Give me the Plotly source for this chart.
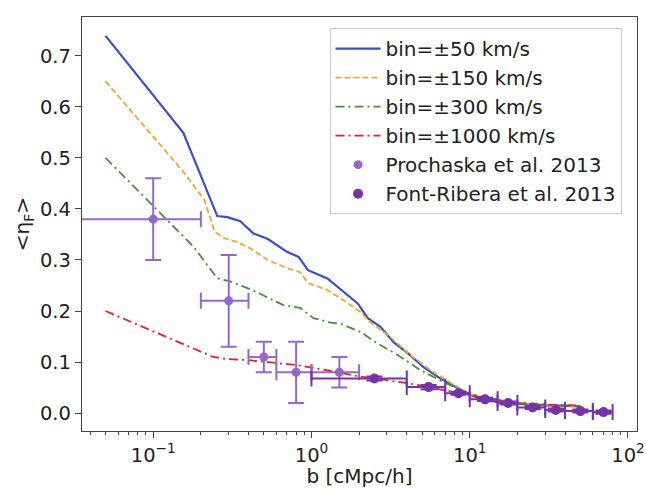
import plotly.graph_objects as go

# ---- data ----
b_50 = [0.05, 0.155, 0.254, 0.294, 0.355, 0.43, 0.53, 0.70, 0.83, 0.95, 1.26, 1.53, 1.96, 2.27, 2.73, 3.3, 4.04, 5.1, 6.5, 8.4, 10, 12.3, 15.6, 25, 50]
eta_50 = [0.739, 0.549, 0.386, 0.384, 0.376, 0.352, 0.341, 0.316, 0.306, 0.28, 0.264, 0.242, 0.215, 0.186, 0.169, 0.139, 0.118, 0.09, 0.068, 0.049, 0.036, 0.026, 0.021, 0.016, 0.013]

b_150 = [0.05, 0.155, 0.21, 0.245, 0.28, 0.34, 0.41, 0.53, 0.70, 0.85, 0.95, 1.26, 1.69, 2.04, 2.36, 3.15, 4.2, 5.9, 8.4, 10, 15, 20, 30, 50]
eta_150 = [0.65, 0.473, 0.418, 0.355, 0.343, 0.335, 0.323, 0.30, 0.284, 0.276, 0.255, 0.241, 0.216, 0.198, 0.178, 0.149, 0.114, 0.08, 0.051, 0.037, 0.025, 0.02, 0.016, 0.013]

b_300 = [0.05, 0.142, 0.18, 0.254, 0.307, 0.43, 0.66, 0.85, 1.03, 1.3, 1.53, 2.04, 2.6, 3.5, 4.9, 6.8, 9.8, 13, 20, 30, 50]
eta_300 = [0.50, 0.359, 0.326, 0.264, 0.258, 0.24, 0.212, 0.206, 0.186, 0.178, 0.175, 0.159, 0.137, 0.114, 0.084, 0.061, 0.039, 0.029, 0.02, 0.016, 0.014]

b_1000 = [0.05, 0.24, 0.29, 0.39, 0.53, 0.81, 1.3, 2, 4, 7, 10, 15, 20, 30, 50]
eta_1000 = [0.20, 0.11, 0.106, 0.104, 0.10, 0.094, 0.083, 0.072, 0.059, 0.045, 0.035, 0.025, 0.02, 0.017, 0.015]

pro_b = [0.1, 0.3, 0.5, 0.8, 1.5]
pro_b_minus = [0.1, 0.1, 0.1, 0.2, 0.5]
pro_b_plus = [0.1, 0.1, 0.1, 0.2, 0.5]
pro_eta = [0.38, 0.22, 0.11, 0.08, 0.08]
pro_eta_err = [0.08, 0.09, 0.03, 0.06, 0.03]

fr_b = [2.5, 5.5, 8.5, 12.5, 17.5, 25, 35, 50, 70]
fr_b_lo = [1, 4, 7, 10, 15, 20, 30, 40, 60]
fr_b_hi = [4, 7, 10, 15, 20, 30, 40, 60, 80]
fr_eta = [0.068, 0.051, 0.039, 0.027, 0.020, 0.011, 0.006, 0.004, 0.002]
fr_eta_err = [0.004, 0.004, 0.003, 0.003, 0.003, 0.003, 0.003, 0.003, 0.003]

labels = ["bin=±50 km/s", "bin=±150 km/s", "bin=±300 km/s", "bin=±1000 km/s",
          "Prochaska et al. 2013", "Font-Ribera et al. 2013"]

x_ticks = [0.1, 1, 10, 100]
x_ticktext = ["10<sup>−1</sup>", "10<sup>0</sup>", "10<sup>1</sup>", "10<sup>2</sup>"]
y_ticks = [0.0, 0.1, 0.2, 0.3, 0.4, 0.5, 0.6, 0.7]

C_BLUE = "#3a4fc4"
C_ORANGE = "#f2a630"
C_GREEN = "#4a8f35"
C_RED = "#e8202a"
C_PRO = "#9468c4"
C_FR = "#7434a8"

FS = 19.5

fig = go.Figure()
fig.add_trace(go.Scatter(x=b_50, y=eta_50, mode="lines", name=labels[0], legendgroup="a",
                         line=dict(color=C_BLUE, width=2.2)))
fig.add_trace(go.Scatter(x=b_150, y=eta_150, mode="lines", name=labels[1], legendgroup="b",
                         line=dict(color=C_ORANGE, width=1.8, dash="6px,3px")))
fig.add_trace(go.Scatter(x=b_300, y=eta_300, mode="lines", name=labels[2], legendgroup="c",
                         line=dict(color=C_GREEN, width=1.8, dash="9px,4px,2px,4px")))
fig.add_trace(go.Scatter(x=b_1000, y=eta_1000, mode="lines", name=labels[3], legendgroup="d",
                         line=dict(color=C_RED, width=1.8, dash="9px,4px,2px,4px")))

pro_minus_safe = [min(m, 0.9999 * b) for m, b in zip(pro_b_minus, pro_b)]
fig.add_trace(go.Scatter(x=pro_b, y=pro_eta, mode="markers", name=labels[4], legendgroup="e",
                         marker=dict(color=C_PRO, size=9),
                         error_y=dict(type="data", array=pro_eta_err, color=C_PRO, thickness=2, width=8),
                         error_x=dict(type="data", array=pro_b_plus, arrayminus=pro_minus_safe,
                                      color=C_PRO, thickness=2, width=8)))
fr_plus = [h - b for h, b in zip(fr_b_hi, fr_b)]
fr_minus = [b - l for l, b in zip(fr_b_lo, fr_b)]
fig.add_trace(go.Scatter(x=fr_b, y=fr_eta, mode="markers", name=labels[5], legendgroup="f",
                         marker=dict(color=C_FR, size=10),
                         error_y=dict(type="data", array=fr_eta_err, color=C_FR, thickness=2, width=8),
                         error_x=dict(type="data", array=fr_plus, arrayminus=fr_minus,
                                      color=C_FR, thickness=2, width=8)))

axis_common = dict(showline=True, linecolor="#444", linewidth=1.3, mirror=True,
                   ticks="outside", ticklen=6, tickwidth=1.2, tickcolor="#444",
                   showgrid=False, zeroline=False, automargin=False,
                   tickfont=dict(family="DejaVu Sans", size=FS, color="#222"))

fig.update_layout(
    width=646, height=488,
    margin=dict(l=82, r=9, t=17, b=57),
    paper_bgcolor="white", plot_bgcolor="white",
    font=dict(family="DejaVu Sans", size=FS, color="#222"),
    xaxis=dict(type="log", range=[-1.45, 2.057], tickvals=x_ticks, ticktext=x_ticktext,
               title=dict(text="b [cMpc/h]", font=dict(size=20), standoff=2),
               minor=dict(ticks="outside", ticklen=3, tickwidth=1, tickcolor="#444", dtick="D1"),
               **axis_common),
    yaxis=dict(range=[-0.035, 0.776], tickvals=y_ticks, ticktext=[f"{v:.1f}" for v in y_ticks],
               title=dict(text="&lt;η<sub>F</sub>&gt;", font=dict(size=20), standoff=4),
               **axis_common),
    legend=dict(x=0.446, y=0.973, xanchor="left", yanchor="top",
                bgcolor="rgba(255,255,255,0.9)", bordercolor="#cccccc", borderwidth=1,
                font=dict(family="DejaVu Sans", size=20, color="#222"),
                itemwidth=45,
                traceorder="grouped", tracegroupgap=0),
    showlegend=True,
)

fig.write_html("out.html")
